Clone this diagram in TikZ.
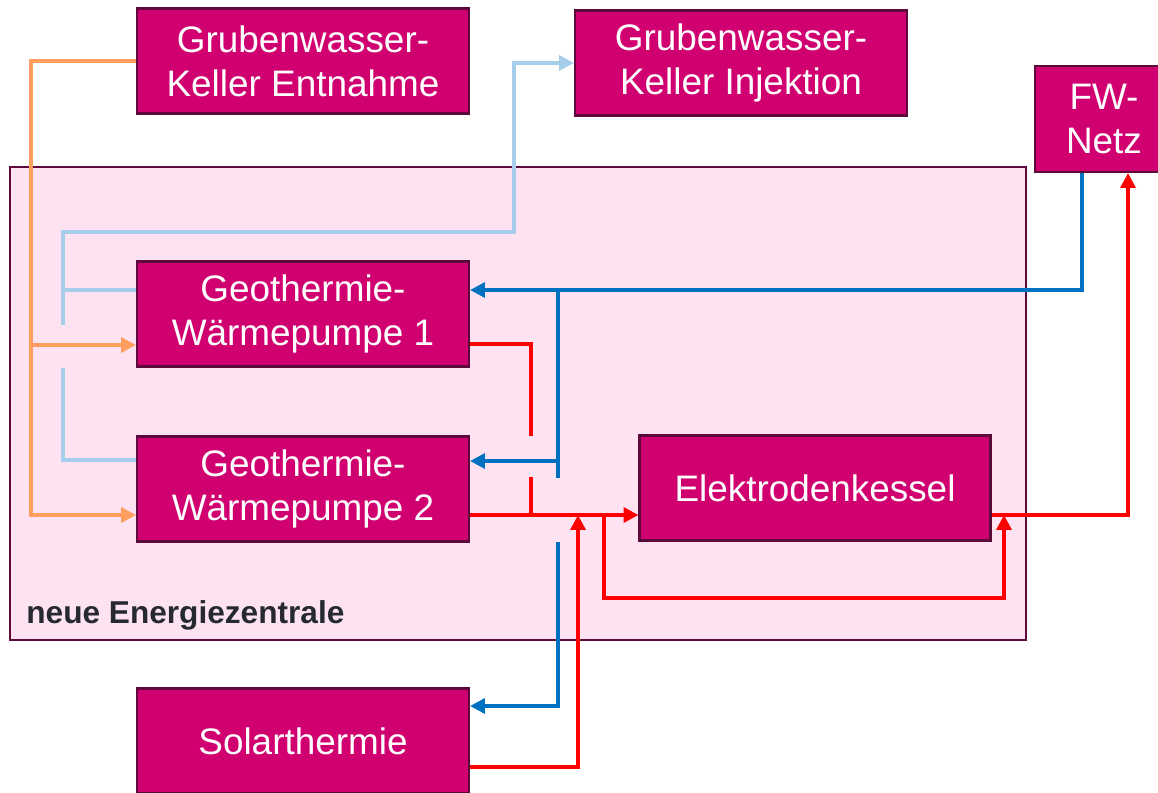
\documentclass[tikz,border=0pt]{standalone}
\usepackage{fontspec}
\setmainfont{Liberation Sans}
\usetikzlibrary{arrows.meta}

\definecolor{boxfill}{RGB}{208,0,112}
\definecolor{boxline}{RGB}{92,10,60}
\definecolor{zonefill}{RGB}{253,227,241}
\definecolor{labeltext}{RGB}{38,42,48}
\definecolor{orangeflow}{RGB}{255,158,94}
\definecolor{lightflow}{RGB}{166,205,234}
\definecolor{blueflow}{RGB}{0,112,192}
\definecolor{redflow}{RGB}{255,0,0}

\tikzset{
  box/.style={rectangle, draw=boxline, fill=boxfill, line width=1.2pt, text=white,
    font=\fontsize{21}{25}\selectfont, align=center, inner sep=0pt,
    minimum width=6.64cm, minimum height=2.1cm},
  zone/.style={rectangle, draw=boxline, fill=zonefill, line width=1.1pt, inner sep=0pt},
  flow/.style={line width=2pt},
  tip/.style={-{Triangle[length=8.5pt,width=8.5pt]}}
}

\begin{document}
\begin{tikzpicture}[x=0.02cm, y=-0.02cm]
    \useasboundingbox (0,0) rectangle (1158,792);

    \node[zone, minimum width=20.32cm, minimum height=9.46cm] (zentrale) at (518,403.5) {};
    \node[anchor=base west, inner sep=0pt, font=\fontsize{18}{20}\selectfont\bfseries, text=labeltext]
        (zlabel) at (26,623) {neue Energiezentrale};

    \path (303,61) node[box] (entnahme) {Grubenwasser-\\Keller Entnahme}
        (741,63) node[box] (injektion) {Grubenwasser-\\Keller Injektion}
        (1104,119) node[box, minimum width=2.76cm, minimum height=2.12cm] (fw) {FW-\\Netz}
        (303,314) node[box] (gwp1) {Geothermie-\\Wärmepumpe 1}
        (303,489) node[box] (gwp2) {Geothermie-\\Wärmepumpe 2}
        (815,488) node[box, minimum width=7.02cm] (kessel) {Elektrodenkessel}
        (303,741) node[box] (solar) {Solarthermie};

    % Grubenwasser Entnahme
    \draw[flow, orangeflow, tip] (entnahme.west) -| (31,515) -- (gwp2.west |- 0,515);
    \draw[flow, orangeflow, tip] (31,345) -- (gwp1.west |- 0,345);

    % Grubenwasser Injektion
    \draw[flow, lightflow, tip] (63,325) |- (514,232) |- (injektion.west);
    \draw[flow, lightflow] (gwp1.west |- 0,290) -- (63,290);
    \draw[flow, lightflow] (63,368) |- (gwp2.west |- 0,460);

    % Ruecklauf
    \draw[flow, blueflow, tip] (fw.south -| 1082,0) |- (gwp1.east |- 0,290);
    \draw[flow, blueflow] (558,290) -- (558,478);
    \draw[flow, blueflow, tip] (558,461) -- (gwp2.east |- 0,461);
    \draw[flow, blueflow, tip] (558,542) |- (solar.east |- 0,706);

    % Vorlauf
    \draw[flow, redflow] (gwp1.east |- 0,344) -| (531,436);
    \draw[flow, redflow] (531,477) -- (531,515);
    \draw[flow, redflow, tip] (gwp2.east |- 0,515) -- (kessel.west |- 0,515);
    \draw[flow, redflow, tip] (solar.east |- 0,767) -| (578,515);
    \draw[flow, redflow, tip] (604,515) |- (1004,598) -- (1004,515);
    \draw[flow, redflow, tip] (kessel.east |- 0,515) -| (fw.south -| 1128,0);
\end{tikzpicture}
\end{document}
